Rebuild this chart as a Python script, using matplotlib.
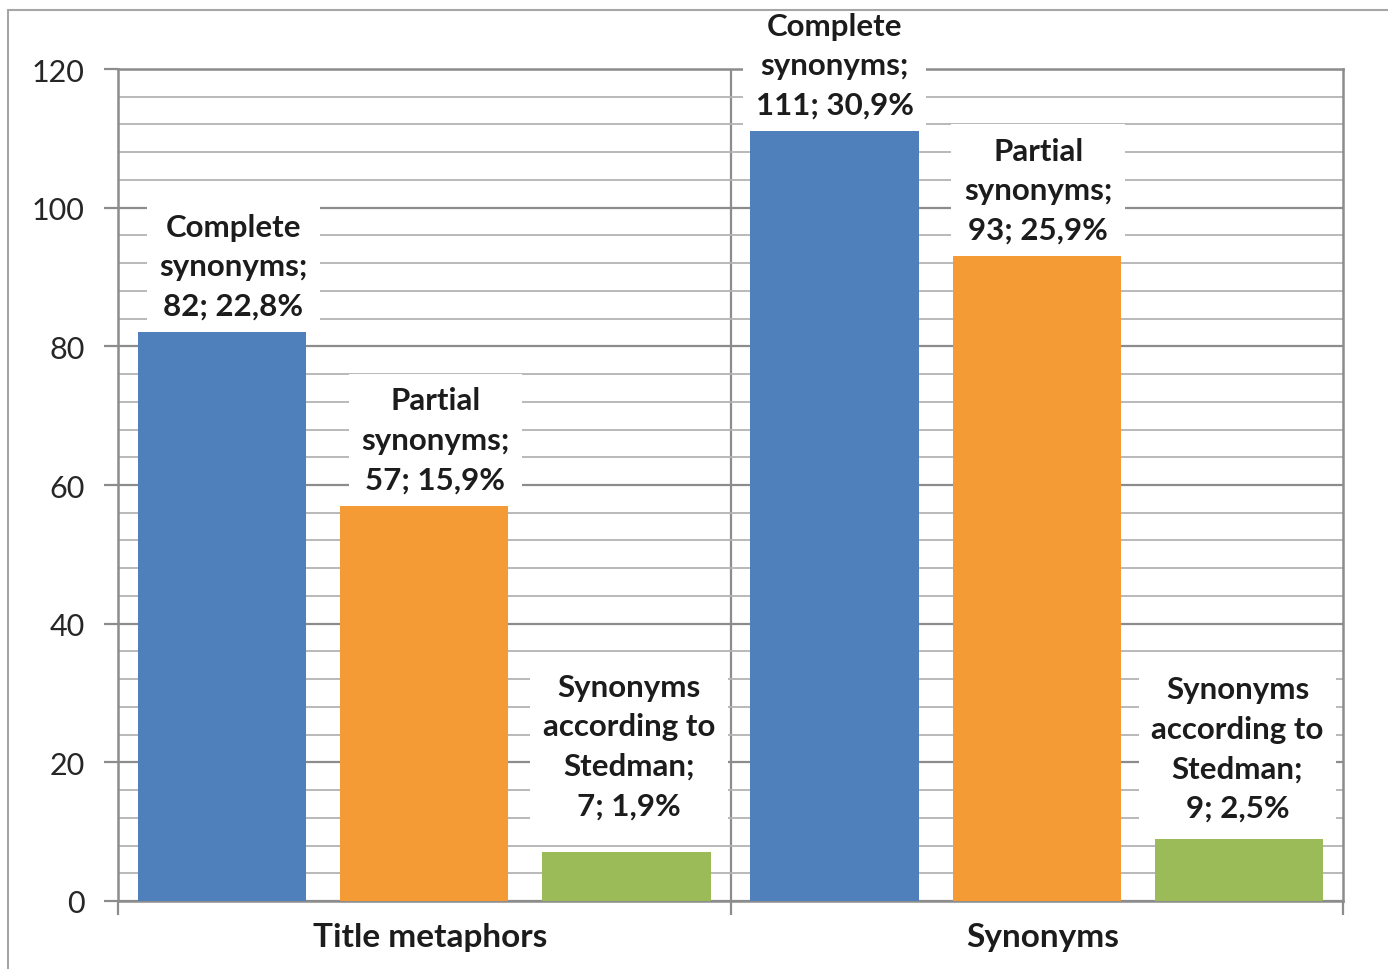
import matplotlib
matplotlib.use("Agg")
import matplotlib.pyplot as plt
from matplotlib.patches import Rectangle
from matplotlib.ticker import MultipleLocator

# Data
groups = ["Title metaphors", "Synonyms"]
series = ["Complete\nsynonyms", "Partial\nsynonyms", "Synonyms\naccording to\nStedman"]
title_metaphors = [82, 57, 7]
synonyms = [111, 93, 9]
pct_title_metaphors = [22.8, 15.9, 1.9]
pct_synonyms = [30.9, 25.9, 2.5]
y_ticks = [0, 20, 40, 60, 80, 100, 120]

colors = ["#4F80BC", "#F59B35", "#9BBB59"]

# label nudges in points (dx, dy) per group and series
label_shift = [[(8, 9), (8, 9), (2, 24)],
               [(0, 9), (1, 9), (-1, 12)]]

W, H = 1388, 970
fig = plt.figure(figsize=(W / 100, H / 100), dpi=100)
fig.patch.set_facecolor("white")

# outer chart frame
fig.patches.append(Rectangle((8 / W, -0.1), 2, 1 - 11 / H + 0.1, transform=fig.transFigure,
                             fill=False, edgecolor="#a6a6a6", linewidth=1.5, zorder=0))

ax = fig.add_axes([118 / W, 1 - 902 / H, (1343 - 118) / W, (902 - 70) / H])
ax.set_xlim(-0.5, 1.5)
ax.set_ylim(0, 120)

font = "Lato"
txt_color = "#1c1c1c"

# grid: minor every 4, major every 20
ax.yaxis.set_major_locator(MultipleLocator(20))
ax.yaxis.set_minor_locator(MultipleLocator(4))
ax.set_yticks(y_ticks)
ax.grid(which="minor", axis="y", color="#b3b3b3", linewidth=1.3, zorder=0)
ax.grid(which="major", axis="y", color="#8c8c8c", linewidth=1.6, zorder=0)
ax.set_axisbelow(True)
ax.axvline(0.5, color="#8c8c8c", linewidth=1.6, zorder=0.5)

for s in ["left", "bottom", "right", "top"]:
    ax.spines[s].set_color("#8c8c8c")
    ax.spines[s].set_linewidth(1.8)

ax.tick_params(axis="y", which="major", direction="out", length=10, width=1.6, color="#8c8c8c",
               pad=14, labelsize=22, labelcolor="#262626")
ax.tick_params(axis="y", which="minor", length=0)
ax.set_xticks([-0.5, 0.5, 1.5])
ax.set_xticklabels([])
ax.tick_params(axis="x", which="major", direction="out", length=10, width=1.6, color="#8c8c8c")
for lab in ax.get_yticklabels():
    lab.set_fontfamily(font)

# category labels
for gx, g in enumerate(groups):
    ax.text(gx + 0.01, -0.043, g, transform=ax.get_xaxis_transform(), ha="center", va="center",
            fontsize=24, fontweight="bold", fontfamily=font, color=txt_color)

width = 0.275
offsets = [-0.33, 0.0, 0.33]
values = [title_metaphors, synonyms]
pcts = [pct_title_metaphors, pct_synonyms]

for gi in range(len(groups)):
    for si in range(len(series)):
        x = gi + offsets[si]
        v = values[gi][si]
        ax.bar(x, v, width=width, color=colors[si], zorder=4)
        label = f"{series[si]};\n{v}; {pcts[gi][si]:.1f}%".replace(".", ",")
        ax.annotate(label, xy=(x, v), xytext=label_shift[gi][si], textcoords="offset points",
                    ha="center", va="bottom", fontsize=22.5, fontweight="bold", fontfamily=font,
                    color=txt_color, linespacing=1.5, annotation_clip=False, zorder=3,
                    bbox=dict(boxstyle="square,pad=0.4", facecolor="white", edgecolor="none"))

fig.savefig("out.png", dpi=100, facecolor="white")
